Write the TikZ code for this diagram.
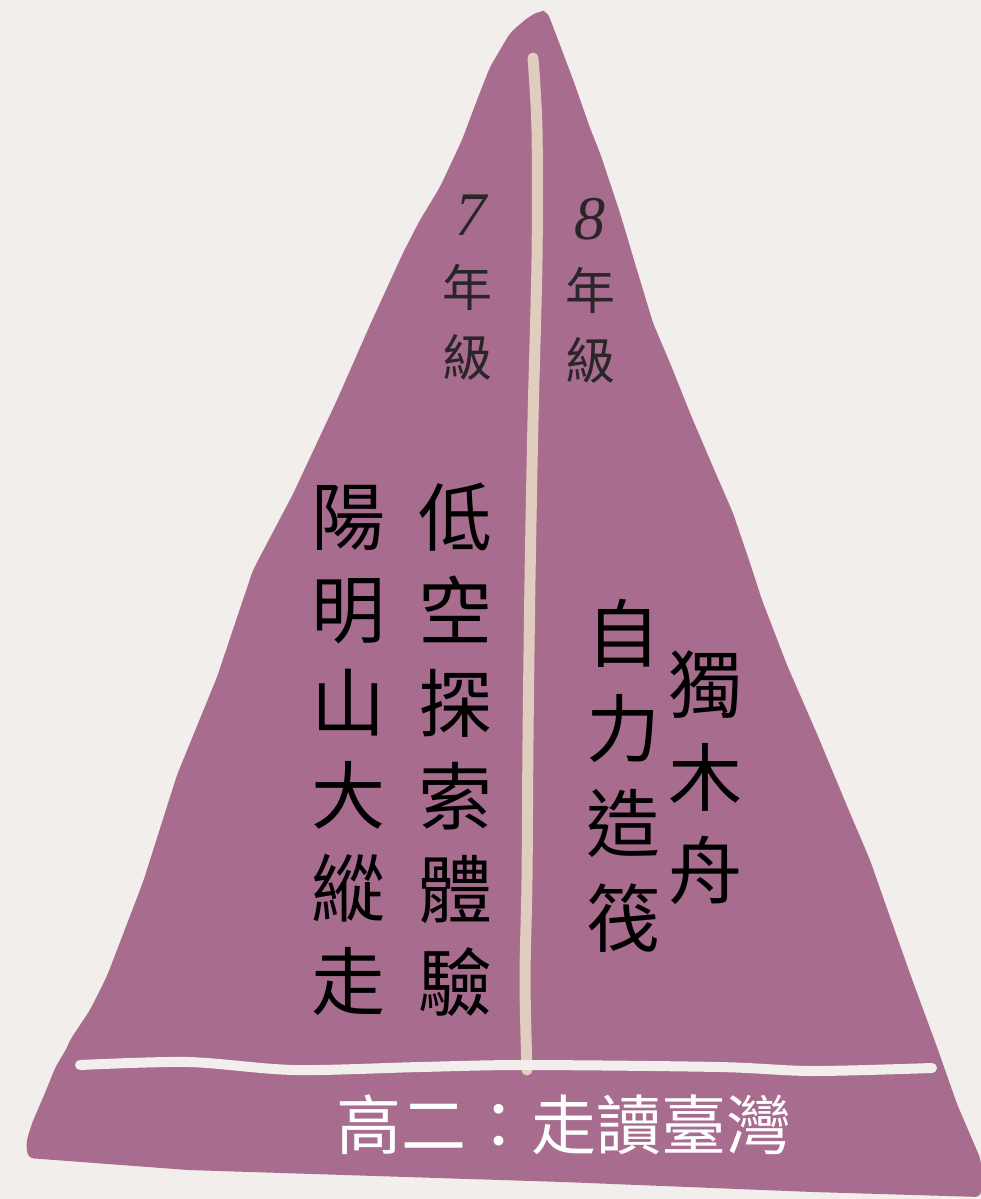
\documentclass[tikz,border=0pt]{standalone}
\usepackage{fontspec}
\newfontfamily\cjk{Noto Sans CJK TC}
\newfontfamily\digitfont{Liberation Serif}
\definecolor{bgc}{HTML}{F1EEEB}
\definecolor{mount}{HTML}{A86C8E}
\definecolor{beige}{HTML}{E0CDBE}
\definecolor{lbl}{HTML}{2A2527}
\tikzset{
  bigcol/.style={inner sep=0pt, align=center, text=black, font={\cjk\fontsize{74}{93}\selectfont}},
  smallcol/.style={inner sep=0pt, align=center, text=lbl, font={\cjk\fontsize{50}{70}\selectfont}},
  digit/.style={inner sep=0pt, text=lbl, font={\digitfont\itshape\fontsize{62}{62}\selectfont}},
  basetext/.style={inner sep=0pt, text=white, font={\cjk\fontsize{65}{70}\selectfont}}
}
\begin{document}
\begin{tikzpicture}[x=1pt,y=-1pt]
\useasboundingbox (0,0) rectangle (981,1199);
\fill[bgc] (0,0) rectangle (981,1199);
% mountain
\fill[mount, rounded corners=6pt] (547,11) -- (540,11) -- (530,16) -- (520,24) -- (510,33) -- (500,50) -- (490,67)
  -- (477,100) -- (462,140) -- (440,187) -- (420,220) -- (403,253) -- (370,325) -- (337,400)
  -- (293,494) -- (253,570) -- (217,677) -- (177,775) -- (143,882) -- (107,976) -- (90,1010)
  -- (70,1040) -- (68,1046) -- (55,1068) -- (45,1093) -- (32,1123) -- (26,1143) -- (28,1158)
  -- (188,1170) -- (563,1182) -- (813,1192) -- (981,1197) -- (981,1160) -- (957,1104)
  -- (937,1047) -- (913,982) -- (890,917) -- (870,860) -- (847,806) -- (817,734) -- (787,665)
  -- (762,600) -- (750,563) -- (733,513) -- (710,460) -- (690,413) -- (670,363) -- (653,323)
  -- (637,270) -- (620,213) -- (600,153) -- (590,128) -- (575,85) -- (560,45) -- cycle;
% vertical divider
\draw[beige, line width=11pt, line cap=round] plot[smooth] coordinates
  {(533,58) (537,130) (537,260) (533,420) (530,580) (528,740) (527,880) (525,980) (527,1070)};
% horizontal divider
\draw[bgc, line width=10pt, line cap=round] plot[smooth] coordinates
  {(80,1065) (188,1062) (294,1070) (420,1067) (525,1065) (719,1067) (812,1071) (932,1068)};
% labels
\node[digit] (d7) at (471,215) {7};
\node[smallcol] (g7) at (467,322) {年\\級};
\node[digit] (d8) at (590,219) {8};
\node[smallcol] (g8) at (590,325) {年\\級};
\node[bigcol] (c1) at (348,750) {陽\\明\\山\\大\\縱\\走};
\node[bigcol] (c2) at (455,750) {低\\空\\探\\索\\體\\驗};
\node[bigcol, font={\cjk\fontsize{74}{95}\selectfont}] (c3) at (623,776) {自\\力\\造\\筏};
\node[bigcol] (c4) at (705,778) {獨\\木\\舟};
\node[basetext] (base) at (564,1125) {高二：走讀臺灣};
\end{tikzpicture}
\end{document}
